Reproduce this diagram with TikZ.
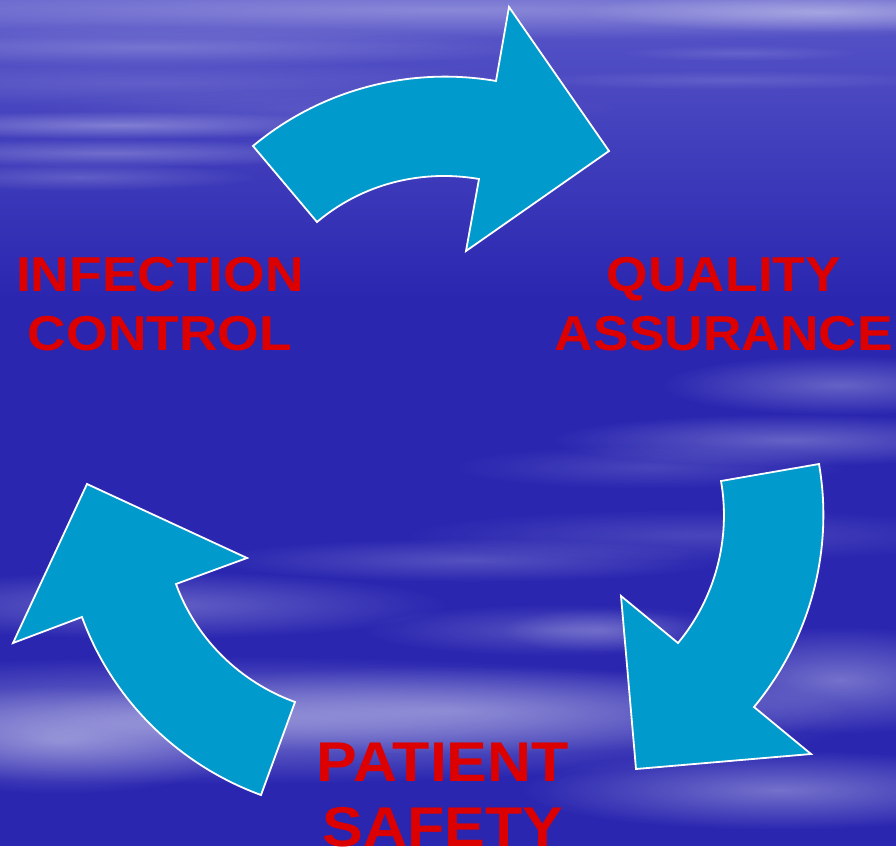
\documentclass[tikz,border=0pt]{standalone}
\usepackage{fontspec}
\usepackage{tikz}
\usetikzlibrary{fadings}
\newfontfamily\labelfont{Liberation Sans}[FakeStretch=1.09]
\definecolor{skyblue}{RGB}{42,38,176}
\definecolor{skytop}{RGB}{88,86,200}
\definecolor{arrowblue}{RGB}{0,155,204}
\definecolor{labelred}{RGB}{221,0,0}
\tikzfading[name=cloudfade, inner color=transparent!0, outer color=transparent!100]
\tikzset{
  cyclearrow/.style={fill=arrowblue, draw=white, line width=1.8pt, line join=miter},
  cloud/.style={white, path fading=cloudfade},
  toplabel/.style={text=labelred, font=\labelfont\bfseries\fontsize{49}{59}\selectfont, align=center, inner sep=0pt, anchor=north},
  bottomlabel/.style={toplabel, font=\labelfont\bfseries\fontsize{56}{65}\selectfont}
}

\begin{document}
\begin{tikzpicture}[x=1pt,y=-1pt]
          \useasboundingbox (0,0) rectangle (896,846);
          %sky
          \shade[top color=skytop, bottom color=skyblue] (0,0) rectangle (896,300);
          \fill[skyblue] (0,300) rectangle (896,846);
          %clouds
          \foreach \cx/\cy/\rx/\ry/\op in {450/10/960/30/.3, 150/47/400/20/.22, 820/12/240/20/.35,
              120/125/260/14/.32, 110/153/260/14/.25, 80/177/180/14/.18, 150/83/400/24/.12,
              740/53/120/8/.12, 730/80/220/10/.12, 330/108/300/18/.1,
              840/385/180/30/.28, 790/440/240/26/.28, 650/467/200/22/.14, 700/535/300/26/.15,
              470/560/260/22/.2, 560/630/200/26/.2,
              150/605/300/34/.28, 220/720/640/64/.4, 60/740/200/54/.35, 450/710/400/44/.3,
              840/680/180/54/.35, 780/790/260/40/.35, 600/630/100/22/.2}
            \fill[cloud, opacity=\op] (\cx,\cy) ellipse ({\rx} and {\ry});
          %arrows
          \filldraw[cyclearrow] (253,146) .. controls (320,90) and (409.5,66) .. (496,81) -- (509,7) -- (609,151)
            -- (466,251) -- (479,179) .. controls (421,169) and (362,184) .. (317,222) -- cycle;
          \filldraw[cyclearrow] (819,464) .. controls (834,550.5) and (810,639.5) .. (754,707) -- (811,754) -- (636,769)
            -- (621,596) -- (678,643) .. controls (715.4,598) and (731,538.6) .. (721,481) -- cycle;
          \filldraw[cyclearrow] (261,795) .. controls (178.4,764.8) and (112,699.7) .. (82,617) -- (13,643) -- (87,484)
            -- (247,558) -- (176,584) .. controls (196,639) and (240,682) .. (295,702) -- cycle;
          %labels
          \node[toplabel] (infection) at (160,257) {INFECTION\\CONTROL};
          \node[toplabel] (quality) at (724,257) {QUALITY\\ASSURANCE};
          \node[bottomlabel] (patient) at (443,743) {PATIENT\\SAFETY};
\end{tikzpicture}
\end{document}
